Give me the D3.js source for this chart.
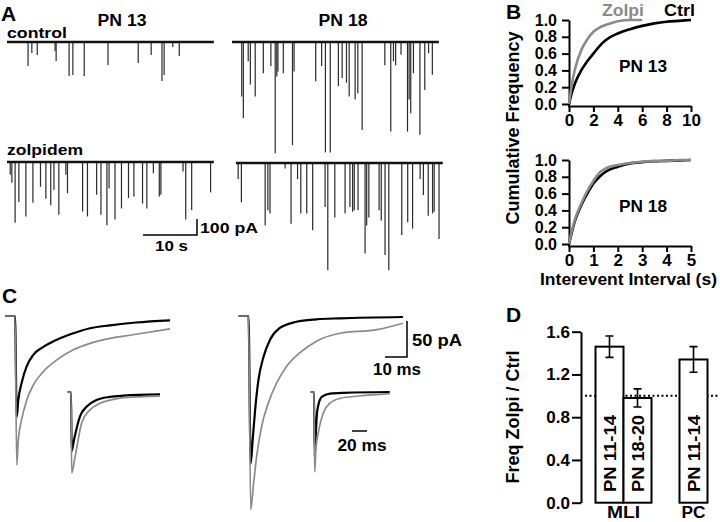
<!DOCTYPE html>
<html>
<head>
<meta charset="utf-8">
<script src="https://cdn.jsdelivr.net/npm/d3@7/dist/d3.min.js"></script>
<style>
body { margin: 0; background: #fff; }
text { font-family: "Liberation Sans", Arial, sans-serif; font-weight: bold; }
</style>
</head>
<body>
<script>
// ---- A: event times (s) and amplitudes (pA)
var traceSec = 38.3;
var ctrl13T = [3.9,4.6,5.6,8.9,9.1,11.5,12.2,14.3,18.7,24.3,26.7,28.7,29.1,30.7,31.9];
var ctrl13A = [150,69,81,56,119,213,206,213,144,131,81,244,206,31,88];
var ctrl18T = [1.8,2.1,3.0,3.4,4.3,5.8,7.2,8.0,8.3,8.5,9.5,11.2,11.5,15.5,16.6,17.3,18.2,19.7,20.4,21.2,21.7,22.8,23.3,24.1,28.3,29.4,29.9,30.3,31.3,32.5,32.8,33.1,33.6,34.8,35.7,36.4,37.1];
var ctrl18A = [340,475,120,265,340,195,150,695,215,185,195,645,185,245,150,690,690,275,225,255,340,360,320,550,145,560,120,145,80,560,360,445,195,580,300,70,205];
var zolp13T = [0.6,0.9,1.5,2.2,3.5,4.8,6.2,7.2,8.1,8.7,9.6,10.9,11.2,14.0,14.9,16.6,17.4,18.5,18.9,20.0,21.2,22.5,23.5,25.1,25.9,27.1,28.2,28.5,32.6,33.1,34.2,37.7];
var zolp13A = [80,130,380,250,340,255,155,230,270,175,330,80,195,310,340,205,330,395,165,360,290,225,215,260,290,70,215,205,60,360,300,190];
var zolp18T = [0.4,1.0,5.4,5.9,6.3,9.1,10.2,11.4,12.0,13.1,14.2,16.5,17.0,18.3,20.2,21.1,21.6,21.9,22.6,23.9,24.2,24.6,26.5,26.9,27.6,28.3,30.7,31.8,32.7,34.1,34.7,35.6,36.4,36.7,37.6];
var zolp18A = [100,245,390,295,315,35,380,100,315,315,420,275,670,340,315,275,305,295,295,565,390,340,295,360,575,670,450,370,410,100,200,330,315,305,475];

// ---- B: cumulative distributions of interevent interval (s)
var cdf13X = [0,0.25,0.5,1,1.5,2,2.5,3,4,5,6,7,8,9,10];
var cdf13Ctrl = [0,0.14,0.25,0.40,0.51,0.60,0.69,0.76,0.84,0.89,0.93,0.96,0.98,0.99,1.0];
var cdf13ZX = [0,0.25,0.5,1,1.5,2,2.5,3,4,5,6];
var cdf13Zolp = [0,0.25,0.42,0.64,0.77,0.86,0.91,0.94,0.985,1.0,1.0];
var cdf18X = [0,0.1,0.25,0.5,0.75,1,1.25,1.5,2,2.5,3,3.5,4,4.5,5];
var cdf18Ctrl = [0,0.12,0.28,0.46,0.60,0.72,0.80,0.86,0.92,0.96,0.975,0.985,0.99,0.995,1.0];
var cdf18Zolp = [0,0.14,0.30,0.48,0.63,0.75,0.85,0.90,0.94,0.965,0.98,0.99,0.99,1.0,1.0];

// ---- C: averaged sIPSCs, time (ms) and current (pA)
var ctrlLT = [-4.5,0,0.8,1.5,3.0,5.3,8.3,12.9,19.0,26.5,34.1,43.2,55,70.5];
var ctrlLI = [0,0,-140,-117,-93,-70,-54,-43,-33,-24,-17,-13,-9,-6];
var zolpLT = [-4.5,0,0.8,1.5,3.0,5.3,8.3,12.9,19.0,26.5,34.1,43.2,53.6,70.5];
var zolpLI = [0,0,-207,-172,-144,-117,-96,-77,-61,-47,-38,-31,-26,-18];
var ctrlRT = [-4.5,0,1.0,1.9,3.0,4.5,6.8,9.8,14.1,21.8,30.9,41.6,70.2];
var ctrlRI = [0,0,-205,-172,-131,-89,-57,-33,-17,-8,-4.6,-3.2,-1.4];
var zolpRT = [-4.5,0,1.0,2.2,3.7,6.0,9.0,12.8,17.3,23.4,30.9,41.6,58.4,70.2];
var zolpRI = [0,0,-269,-236,-195,-153,-121,-93,-70,-51,-35,-24,-19,-10];
// insets, peak scaled
var ctrlLiT = [-4.5,0,0.9,4,12,21,34,52,70,118.7];
var ctrlLiV = [0,0,-0.73,-0.59,-0.30,-0.18,-0.10,-0.06,-0.045,-0.03];
var zolpLiT = [-4.5,0,0.9,5.3,14.3,25.3,38.7,52,70,118.7];
var zolpLiV = [0,0,-1.0,-0.81,-0.38,-0.22,-0.14,-0.10,-0.07,-0.05];
var ctrlRiT = [-4.5,0,1.0,2.0,4.4,10.3,21.3,40,101];
var ctrlRiV = [0,0,-0.8,-0.6,-0.23,-0.06,-0.02,-0.01,0];
var zolpRiT = [-4.5,0,0.9,2.5,5.7,12.4,21.3,34.7,60,101];
var zolpRiV = [0,0,-1.0,-0.72,-0.51,-0.26,-0.14,-0.08,-0.05,-0.02];

// ---- D: frequency ratio zolpidem / control
var dLabels = ["PN 11-14","PN 18-20","PN 11-14"];
var dSlots = [0,1,3];
var dMeans = [1.46,0.98,1.34];
var dErr = [0.10,0.085,0.12];
var dTicks = [0,0.4,0.8,1.2,1.6];

var grey = "#8a8a8a";
var svg = d3.select("body").append("svg").attr("width", 720).attr("height", 522);
svg.append("rect").attr("width", 720).attr("height", 522).attr("fill", "#fff");

function label(x, y, s, size, anchor, len, col) {
  var t = svg.append("text").attr("x", x).attr("y", y).text(s)
    .attr("font-size", size).attr("text-anchor", anchor || "start")
    .attr("fill", col || "#000");
  if (len) t.attr("textLength", len).attr("lengthAdjust", "spacingAndGlyphs");
  return t;
}
function vlabel(x, y, s, size, len) {
  var t = svg.append("text").attr("transform", "translate(" + x + "," + y + ") rotate(-90)")
    .attr("text-anchor", "middle").attr("font-size", size).text(s);
  if (len) t.attr("textLength", len).attr("lengthAdjust", "spacingAndGlyphs");
  return t;
}
function styleAxis(g, size) {
  g.attr("font-family", null).attr("font-size", size);
  g.selectAll("path, line").attr("stroke", "#000").attr("stroke-width", 2);
}

// ================= A
function drawTrace(times, amps, x0, base) {
  var x = d3.scaleLinear().domain([0, traceSec]).range([x0, x0 + traceSec * 5.4]);
  var y = d3.scaleLinear().domain([0, 100]).range([base, base + 16]);
  svg.append("g").selectAll("line").data(d3.zip(times, amps)).enter().append("line")
    .attr("x1", function(d) { return x(d[0]); })
    .attr("x2", function(d) { return x(d[0]); })
    .attr("y1", base)
    .attr("y2", function(d) { return y(d[1]); })
    .attr("stroke", "#2a2a2a").attr("stroke-width", 1.2);
  svg.append("line").attr("x1", x(0)).attr("x2", x(traceSec)).attr("y1", base).attr("y2", base)
    .attr("stroke", "#111").attr("stroke-width", 2.4);
  return { x: x, y: y };
}
drawTrace(ctrl13T, ctrl13A, 7, 42);
drawTrace(ctrl18T, ctrl18A, 232, 42);
var zs = drawTrace(zolp13T, zolp13A, 7, 162);
drawTrace(zolp18T, zolp18A, 236, 163);

// scale bar A
var sbx = 197, sby = 235;
var sbW = zs.x(10) - zs.x(0), sbH = zs.y(100) - zs.y(0);
svg.append("path").attr("d", "M" + (sbx - sbW) + "," + sby + "H" + sbx + "V" + (sby - sbH))
  .attr("fill", "none").attr("stroke", "#000").attr("stroke-width", 1.5);
label(200, 233, "100 pA", 15, "start", 58);
label(155, 251, "10 s", 15, "start", 33);

label(1, 21, "A", 21);
label(122, 26, "PN 13", 16, "middle", 49);
label(343, 26, "PN 18", 16, "middle", 49);
label(7, 38, "control", 15, "start", 60);
label(7, 155, "zolpidem", 15, "start", 76);

// ================= B
function cdfPlot(top, xmax, xticks, cx, cy, zx, zy, name) {
  var x = d3.scaleLinear().domain([0, xmax]).range([569, 691]);
  var y = d3.scaleLinear().domain([0, 1]).range([top + 84, top]);
  var gy = svg.append("g").attr("transform", "translate(569,0)")
    .call(d3.axisLeft(y).tickValues([0,0.2,0.4,0.6,0.8,1]).tickFormat(d3.format(".1f"))
      .tickSize(7).tickSizeOuter(0).tickPadding(5));
  styleAxis(gy, 16);
  var gx = svg.append("g").attr("transform", "translate(0," + (top + 86) + ")")
    .call(d3.axisBottom(x).tickValues(xticks).tickFormat(d3.format("d"))
      .tickSize(6).tickSizeOuter(0).tickPadding(2));
  styleAxis(gx, 17);
  svg.append("line").attr("x1", 569).attr("x2", 569).attr("y1", top + 83).attr("y2", top + 87)
    .attr("stroke", "#000").attr("stroke-width", 2);
  var ln = d3.line().x(function(d) { return x(d[0]); }).y(function(d) { return y(d[1]); })
    .curve(d3.curveMonotoneX);
  svg.append("path").attr("d", ln(d3.zip(cx, cy))).attr("fill", "none")
    .attr("stroke", "#000").attr("stroke-width", 2.6);
  svg.append("path").attr("d", ln(d3.zip(zx, zy))).attr("fill", "none")
    .attr("stroke", grey).attr("stroke-width", 2.6);
  label(643, top + 52, name, 17, "middle", 48);
}
cdfPlot(20, 10, [0,2,4,6,8,10], cdf13X, cdf13Ctrl, cdf13ZX, cdf13Zolp, "PN 13");
cdfPlot(160, 5, [0,1,2,3,4,5], cdf18X, cdf18Ctrl, cdf18X, cdf18Zolp, "PN 18");
label(602, 16, "Zolpi", 17, "start", 42, grey);
label(664, 16, "Ctrl", 17, "start", 31);
label(540, 285, "Interevent Interval (s)", 17, "start", 177);
vlabel(519, 128, "Cumulative Frequency", 18);
label(506, 19, "B", 21);

// ================= C
function traces(t0, base, pxPerMs, pxPerUnit, ct, ci, zt, zi) {
  var x = d3.scaleLinear().domain([0, 10]).range([t0, t0 + 10 * pxPerMs]);
  var y = d3.scaleLinear().domain([0, -1]).range([base, base + pxPerUnit]);
  var ln = d3.line().x(function(d) { return x(d[0]); }).y(function(d) { return y(d[1]); })
    .curve(d3.curveMonotoneX);
  svg.append("path").attr("d", ln(d3.zip(ct, ci))).attr("fill", "none")
    .attr("stroke", "#000").attr("stroke-width", 2.2);
  svg.append("path").attr("d", ln(d3.zip(zt, zi))).attr("fill", "none")
    .attr("stroke", grey).attr("stroke-width", 1.7);
  return { x: x, y: y };
}
var cl = traces(15, 316, 2.2, 0.72, ctrlLT, ctrlLI, zolpLT, zolpLI);
traces(248.5, 316, 2.2, 0.72, ctrlRT, ctrlRI, zolpRT, zolpRI);
var ci = traces(71, 392, 0.75, 81, ctrlLiT, ctrlLiV, zolpLiT, zolpLiV);
traces(314, 392, 0.75, 80, ctrlRiT, ctrlRiV, zolpRiT, zolpRiV);

// scale bars C
var cbx = 407, cby = 357;
var cW = cl.x(10) - cl.x(0), cH = cl.y(-50) - cl.y(0);
svg.append("path").attr("d", "M" + (cbx - cW) + "," + cby + "H" + cbx + "V" + (cby - cH))
  .attr("fill", "none").attr("stroke", "#000").attr("stroke-width", 1.5);
label(412, 346, "50 pA", 16, "start", 50);
label(373, 375, "10 ms", 16, "start", 48);
var iW = ci.x(20) - ci.x(0);
svg.append("line").attr("x1", 352).attr("x2", 352 + iW).attr("y1", 431).attr("y2", 431)
  .attr("stroke", "#000").attr("stroke-width", 1.5);
label(362, 451, "20 ms", 16, "middle", 49);
label(2, 303, "C", 21);

// ================= D
var dy = d3.scaleLinear().domain([0, 1.6]).range([502.7, 331.7]);
var dx = d3.scaleBand().domain([0,1,2,3]).range([595.5, 707.5]).padding(0);
var gd = svg.append("g").attr("transform", "translate(581,0)")
  .call(d3.axisLeft(dy).tickValues(dTicks).tickFormat(d3.format(".1f"))
    .tickSize(9).tickSizeOuter(0).tickPadding(2));
styleAxis(gd, 17);
svg.append("line").attr("x1", 585).attr("x2", 720).attr("y1", dy(1)).attr("y2", dy(1))
  .attr("stroke", "#000").attr("stroke-width", 2).attr("stroke-dasharray", "2,2.5");
var bars = svg.append("g").selectAll("g").data(dMeans).enter().append("g");
bars.append("rect")
  .attr("x", function(d, i) { return dx(dSlots[i]); })
  .attr("width", dx.bandwidth())
  .attr("y", function(d) { return dy(d); })
  .attr("height", function(d) { return dy(0) - dy(d); })
  .attr("fill", "#fff").attr("stroke", "#000").attr("stroke-width", 2);
bars.append("path")
  .attr("d", function(d, i) {
    var c = dx(dSlots[i]) + dx.bandwidth() / 2, a = dy(d + dErr[i]), b = dy(d - dErr[i]);
    return "M" + c + "," + a + "V" + b + "M" + (c - 4) + "," + a + "H" + (c + 4) +
      "M" + (c - 4) + "," + b + "H" + (c + 4);
  })
  .attr("fill", "none").attr("stroke", "#000").attr("stroke-width", 1.6);
bars.append("text")
  .attr("transform", function(d, i) {
    return "translate(" + (dx(dSlots[i]) + dx.bandwidth() / 2 + 6.5) + ",492) rotate(-90)";
  })
  .attr("font-size", 17).attr("textLength", 77).attr("lengthAdjust", "spacingAndGlyphs")
  .text(function(d, i) { return dLabels[i]; });
label(dx(1), 518, "MLI", 16, "middle", 33);
label(dx(3) + dx.bandwidth() / 2, 518, "PC", 16, "middle", 24);
vlabel(519, 417, "Freq Zolpi / Ctrl", 18);
label(506, 322, "D", 21);
</script>
</body>
</html>
